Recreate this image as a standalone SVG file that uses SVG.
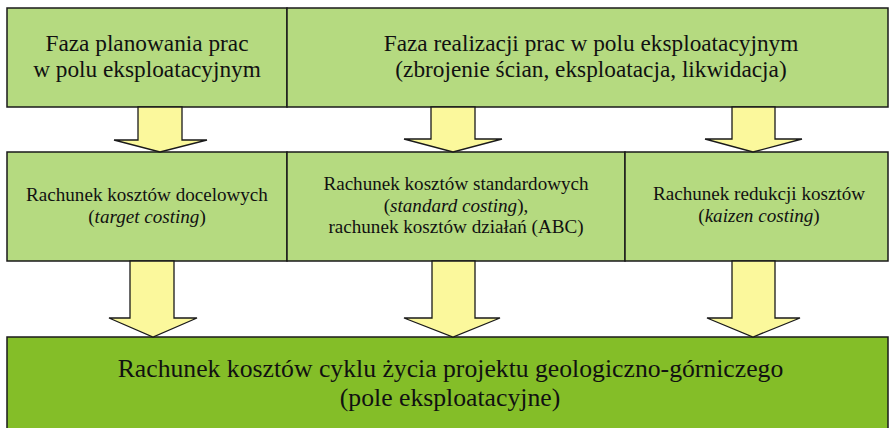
<svg xmlns="http://www.w3.org/2000/svg" width="889" height="428" viewBox="0 0 889 428">
  <style>
    .box { fill: #B5DA80; stroke: #1a1a1a; stroke-width: 1.5; }
    .main { fill: #84BE28; stroke: #1a1a1a; stroke-width: 1.5; }
    .arrow { fill: #FBF89C; stroke: #1a1a1a; stroke-width: 1.3; stroke-linejoin: miter; }
    .lbl { font-family: 'Liberation Serif', Tinos, 'Times New Roman', Times, 'DejaVu Serif', serif; fill: #111; text-anchor: middle; }
    .t1 { font-size: 23.3px; }
    .t2 { font-size: 19.1px; }
    .t3 { font-size: 25.7px; }
  </style>

  <!-- top row: phases -->
  <g id="phase-planning">
    <rect class="box" x="7" y="8" width="280" height="99"/>
    <text class="lbl t1" x="147" y="51">Faza planowania prac</text>
    <text class="lbl t1" x="147" y="77">w polu eksploatacyjnym</text>
  </g>
  <g id="phase-realization">
    <rect class="box" x="287" y="8" width="601" height="99"/>
    <text class="lbl t1" x="591" y="51">Faza realizacji prac w polu eksploatacyjnym</text>
    <text class="lbl t1" x="591" y="77">(zbrojenie ścian, eksploatacja, likwidacja)</text>
  </g>

  <!-- middle row: costing methods -->
  <g id="target-costing">
    <rect class="box" x="7" y="152" width="280" height="109"/>
    <text class="lbl t2" x="147" y="201">Rachunek kosztów docelowych</text>
    <text class="lbl t2" x="147" y="223">(<tspan font-style="italic">target costing</tspan>)</text>
  </g>
  <g id="standard-costing">
    <rect class="box" x="287" y="152" width="338" height="109"/>
    <text class="lbl t2" x="456" y="190">Rachunek kosztów standardowych</text>
    <text class="lbl t2" x="456" y="212">(<tspan font-style="italic">standard costing</tspan>),</text>
    <text class="lbl t2" x="456" y="233">rachunek kosztów działań (ABC)</text>
  </g>
  <g id="kaizen-costing">
    <rect class="box" x="625" y="152" width="263" height="109"/>
    <text class="lbl t2" x="759" y="200">Rachunek redukcji kosztów</text>
    <text class="lbl t2" x="759" y="222">(<tspan font-style="italic">kaizen costing</tspan>)</text>
  </g>

  <!-- bottom: life cycle costing -->
  <g id="life-cycle-costing">
    <rect class="main" x="7" y="337" width="881" height="95"/>
    <text class="lbl t3" x="450.5" y="377">Rachunek kosztów cyklu życia projektu geologiczno-górniczego</text>
    <text class="lbl t3" x="450" y="406">(pole eksploatacyjne)</text>
  </g>

  <!-- block arrows -->
  <g id="connectors">
    <polygon class="arrow" points="138,107 182,107 182,140 207,140 160,152 114,140 138,140"/>
    <polygon class="arrow" points="431,107 475,107 475,139 502,139 453,152 404,139 431,139"/>
    <polygon class="arrow" points="732,107 775,107 775,139 802,139 753,152 705,139 732,139"/>
    <polygon class="arrow" points="130,261 174,261 174,318 197,318 153,337 109,318 130,318"/>
    <polygon class="arrow" points="432,261 475,261 475,318 500,318 453,337 404,318 432,318"/>
    <polygon class="arrow" points="732,261 775,261 775,318 800,318 753,337 707,318 732,318"/>
  </g>
</svg>
